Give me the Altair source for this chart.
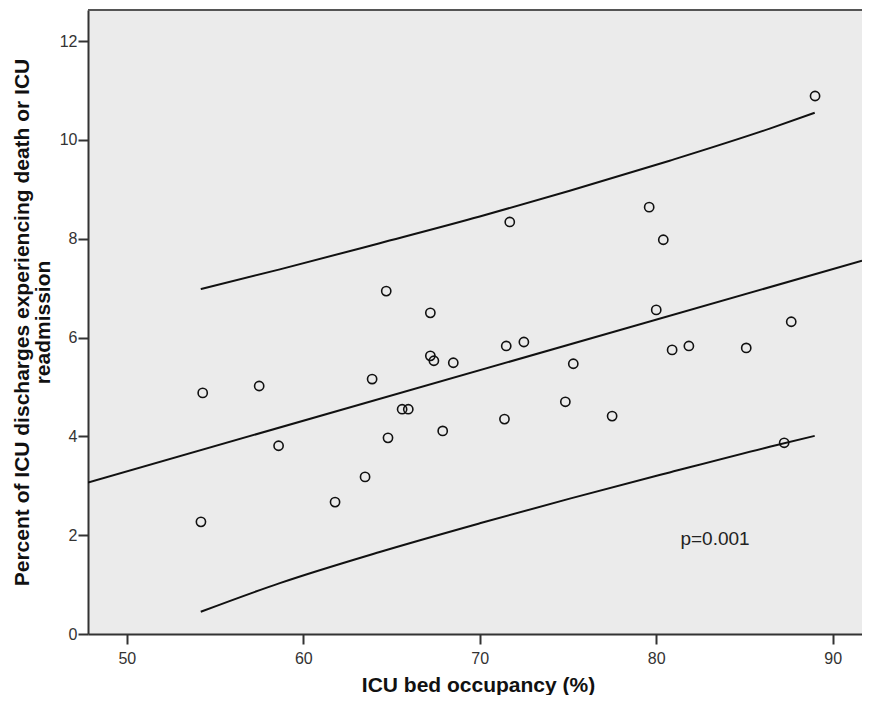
import altair as alt
import pandas as pd

# ---- data ----
occupancy = [54.3, 54.2, 57.5, 58.6, 89.0, 71.7, 79.6, 80.4, 64.7, 67.2, 80.0, 87.65,
             63.9, 67.2, 67.4, 68.5, 71.5, 72.5, 75.3, 80.9, 81.85, 85.1, 65.6, 65.95,
             64.8, 67.9, 71.4, 74.85, 77.5, 63.5, 61.8, 87.25]
percent = [4.88, 2.27, 5.02, 3.81, 10.89, 8.34, 8.64, 7.98, 6.94, 6.50, 6.56, 6.32,
           5.16, 5.63, 5.53, 5.49, 5.83, 5.91, 5.47, 5.75, 5.83, 5.79, 4.55, 4.55,
           3.97, 4.11, 4.35, 4.70, 4.41, 3.18, 2.67, 3.87]

# prediction-interval curves
band_x = [54.19, 58.67, 64.33, 70.0, 75.10, 80.76, 86.43, 88.98]
upper_y = [6.98, 7.38, 7.91, 8.45, 8.97, 9.58, 10.23, 10.55]
lower_y = [0.45, 1.03, 1.66, 2.24, 2.74, 3.27, 3.79, 4.01]

label_x = [81.37]
label_y = [1.80]
label_text = ["p=0.001"]

x_domain = [47.8, 91.66]
y_domain = [0, 12.63]
x_ticks = [50, 60, 70, 80, 90]
y_ticks = [0, 2, 4, 6, 8, 10, 12]

W, H = 774, 624
FONT = "Liberation Sans"

pts = pd.DataFrame({"occupancy": occupancy, "percent": percent})
band = pd.DataFrame({
    "occupancy": band_x + band_x,
    "percent": upper_y + lower_y,
    "curve": ["upper"] * len(band_x) + ["lower"] * len(band_x),
})
lab = pd.DataFrame({"occupancy": label_x, "percent": label_y, "text": label_text})

xscale = alt.Scale(domain=x_domain, nice=False, zero=False)
yscale = alt.Scale(domain=y_domain, nice=False, zero=False)

x_axis = alt.Axis(
    values=x_ticks, title="ICU bed occupancy (%)", grid=False,
    domainColor="#333", domainWidth=2, tickColor="#333", tickWidth=2, tickSize=10,
    labelFont=FONT, labelFontSize=16, labelColor="#333", labelPadding=6,
    titleFont=FONT, titleFontSize=21, titleFontWeight="bold", titleColor="#111",
    titleBaseline="alphabetic", titleY=57, titleX=390,
)
y_axis = alt.Axis(
    values=y_ticks, title=["Percent of ICU discharges experiencing death or ICU", "readmission"],
    grid=False, domainColor="#333", domainWidth=2, tickColor="#333", tickWidth=2, tickSize=10,
    labelFont=FONT, labelFontSize=16, labelColor="#333", labelPadding=1,
    titleFont=FONT, titleFontSize=21, titleFontWeight="bold", titleColor="#111",
    titleBaseline="top", titleX=-77, titleY=H / 2, titleLineHeight=21,
)

base = alt.Chart(pts)

points = base.mark_point(shape="circle", filled=False, color="#111", size=85,
                         strokeWidth=1.6, opacity=1).encode(
    x=alt.X("occupancy:Q", scale=xscale, axis=x_axis),
    y=alt.Y("percent:Q", scale=yscale, axis=y_axis),
)

fit = base.transform_regression("occupancy", "percent", extent=x_domain).mark_line(
    color="#111", strokeWidth=2, clip=True).encode(
    x=alt.X("occupancy:Q", scale=xscale),
    y=alt.Y("percent:Q", scale=yscale),
)

curves = alt.Chart(band).mark_line(color="#111", strokeWidth=2, interpolate="monotone").encode(
    x=alt.X("occupancy:Q", scale=xscale),
    y=alt.Y("percent:Q", scale=yscale),
    detail="curve:N",
)

ptext = alt.Chart(lab).mark_text(align="left", baseline="alphabetic", font=FONT,
                                 fontSize=19, color="#222").encode(
    x=alt.X("occupancy:Q", scale=xscale),
    y=alt.Y("percent:Q", scale=yscale),
    text="text:N",
)

top_border = alt.Chart(pts).mark_rule(color="#555", strokeWidth=2).encode(
    x=alt.value(0), x2=alt.value(W), y=alt.value(0)
)

chart = alt.layer(curves, fit, points, ptext, top_border).properties(
    width=W, height=H,
    autosize=alt.AutoSizeParams(type="none"),
    padding={"left": 80, "top": 2, "right": 0, "bottom": 61},
    background="white",
).configure_view(fill="#ebebeb", stroke=None)

chart.save("out.html", embed_options={"renderer": "svg", "actions": False})
